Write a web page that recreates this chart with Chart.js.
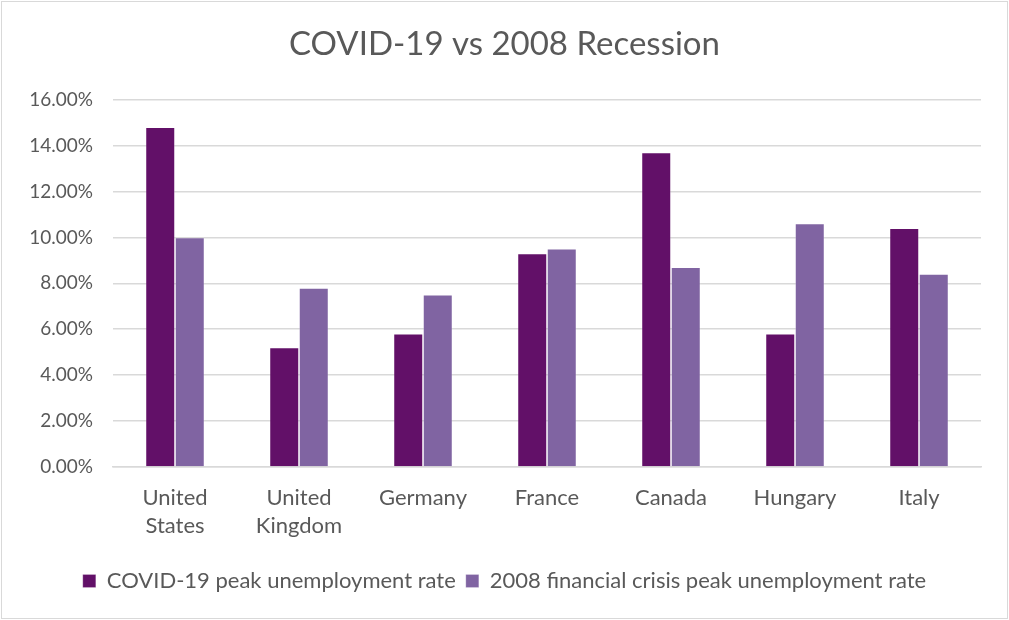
<!DOCTYPE html>
<html>
<head>
<meta charset="utf-8">
<script src="https://cdn.jsdelivr.net/npm/chart.js@4"></script>
<style>
  html, body { margin: 0; padding: 0; background: #fff; }
  #wrap { width: 1009px; height: 620px; position: relative; }
</style>
</head>
<body>
<div id="wrap"><canvas id="c" width="1009" height="620"></canvas></div>
<script>
// Peak unemployment rates (%) by country
const countries = [["United", "States"], ["United", "Kingdom"], "Germany", "France", "Canada", "Hungary", "Italy"];
const covidPeak = [14.8, 5.2, 5.8, 9.3, 13.7, 5.8, 10.4];
const crisis2008Peak = [10.0, 7.8, 7.5, 9.5, 8.7, 10.6, 8.4];
const seriesNames = ["COVID-19 peak unemployment rate", "2008 financial crisis peak unemployment rate"];

const FONT = "Lato, 'Open Sans', sans-serif";
const TEXT = "#595959";
const GRID = "#d9d9d9";

// Thin light frame around the whole chart
const framePlugin = {
  id: 'frame',
  beforeDraw(chart) {
    const ctx = chart.ctx;
    ctx.save();
    ctx.fillStyle = '#fff';
    ctx.fillRect(0, 0, chart.width, chart.height);
    ctx.strokeStyle = GRID;
    ctx.lineWidth = 1;
    ctx.strokeRect(1.5, 1.5, chart.width - 3, chart.height - 3);
    ctx.restore();
  }
};

new Chart(document.getElementById('c'), {
  type: 'bar',
  data: {
    labels: countries,
    datasets: [
      { label: seriesNames[0], data: covidPeak, backgroundColor: '#621068', borderColor: 'rgba(255,255,255,0.3)', borderWidth: 0.75 },
      { label: seriesNames[1], data: crisis2008Peak, backgroundColor: '#8064a2', borderColor: 'rgba(255,255,255,0.3)', borderWidth: 0.75 }
    ]
  },
  options: {
    responsive: false,
    animation: false,
    layout: { padding: { left: 14, right: 14, top: 0, bottom: 18 } },
    datasets: { bar: { categoryPercentage: 0.476, barPercentage: 1.0 } },
    plugins: {
      title: {
        display: true,
        text: 'COVID-19 vs 2008 Recession',
        color: TEXT,
        font: { family: FONT, size: 33, weight: 'normal', lineHeight: 1.2 },
        padding: { top: 25, bottom: 35 }
      },
      legend: {
        position: 'bottom',
        labels: {
          color: TEXT,
          font: { family: FONT, size: 22 },
          boxWidth: 13,
          boxHeight: 13,
          padding: 10
        }
      },
      tooltip: { enabled: false }
    },
    scales: {
      x: {
        grid: { display: false, drawTicks: false },
        border: { display: true, color: GRID, width: 1.5 },
        ticks: {
          color: TEXT,
          font: { family: FONT, size: 22, lineHeight: 1.27 },
          padding: 17,
          maxRotation: 0,
          autoSkip: false
        },
        afterFit(s) { s.height = 93; }
      },
      y: {
        min: 0,
        max: 16,
        border: { display: false },
        grid: { color: GRID, lineWidth: 1.5, drawTicks: false },
        ticks: {
          stepSize: 2,
          color: TEXT,
          font: { family: FONT, size: 19 },
          padding: 20,
          callback: v => v.toFixed(2) + '%'
        },
        afterFit(s) { s.width = 99; }
      },
      // empty right-hand gutter so the plot ends short of the frame
      gutter: {
        type: 'linear',
        position: 'right',
        grid: { display: false, drawTicks: false },
        border: { display: false },
        ticks: { display: false },
        afterFit(s) { s.width = 14; }
      }
    }
  },
  plugins: [framePlugin]
});
</script>
</body>
</html>
